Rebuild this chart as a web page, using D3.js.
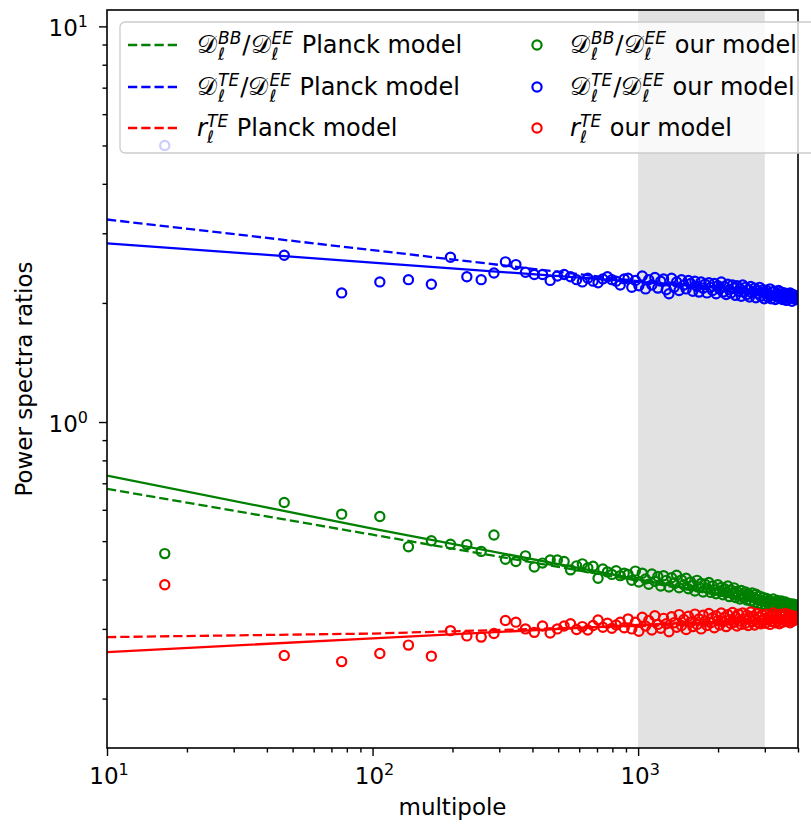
<!DOCTYPE html>
<html>
<head>
<meta charset="utf-8">
<script src="https://cdn.jsdelivr.net/npm/d3@7"></script>
<style>
  body { margin: 0; background: #fff; }
  text { font-family: "DejaVu Sans", sans-serif; }
</style>
</head>
<body>
<script>
// multipole bin centres (bins of width 30)
const ells = d3.range(16.5, 4000, 30);

// measured ratios, one value per bin
const teRatio = [
  5.0, 2.64, 2.12, 2.26, 2.29, 2.23, 2.61, 2.33, 2.29, 2.38,
  2.54, 2.50, 2.39, 2.36, 2.36, 2.28, 2.34, 2.36, 2.33, 2.29,
  2.26, 2.31, 2.27, 2.25, 2.30, 2.33, 2.29, 2.27, 2.22, 2.30,
  2.31, 2.19, 2.28, 2.21, 2.34, 2.17, 2.29, 2.22, 2.32, 2.18,
  2.27, 2.30, 2.16, 2.11, 2.31, 2.19, 2.26, 2.15, 2.29, 2.22,
  2.17, 2.28, 2.24, 2.14, 2.27, 2.20, 2.13, 2.26, 2.18, 2.23,
  2.12, 2.25, 2.19, 2.15, 2.24, 2.11, 2.21, 2.17, 2.26, 2.13,
  2.20, 2.10, 2.23, 2.16, 2.12, 2.22, 2.18, 2.09, 2.21, 2.14,
  2.17, 2.08, 2.22, 2.13, 2.19, 2.10, 2.16, 2.07, 2.20, 2.12,
  2.14, 2.18, 2.06, 2.15, 2.11, 2.19, 2.08, 2.13, 2.16, 2.05,
  2.12, 2.15, 2.07, 2.10, 2.17, 2.05, 2.13, 2.09, 2.14, 2.04,
  2.11, 2.07, 2.15, 2.06, 2.10, 2.13, 2.04, 2.09, 2.12, 2.06,
  2.03, 2.11, 2.08, 2.05, 2.12, 2.07, 2.02, 2.10, 2.06, 2.09,
  2.04, 2.08, 2.05
];
const bbRatio = [
  0.465, 0.626, 0.585, 0.577, 0.484, 0.501, 0.491, 0.490, 0.471, 0.518,
  0.450, 0.444, 0.459, 0.430, 0.440, 0.448, 0.448, 0.444, 0.423, 0.433,
  0.438, 0.428, 0.432, 0.403, 0.425, 0.418, 0.412, 0.421, 0.409, 0.415,
  0.412, 0.398, 0.420, 0.394, 0.415, 0.401, 0.389, 0.413, 0.396, 0.407,
  0.385, 0.409, 0.398, 0.383, 0.404, 0.392, 0.410, 0.381, 0.399, 0.388,
  0.403, 0.379, 0.394, 0.386, 0.374, 0.398, 0.383, 0.391, 0.372, 0.389,
  0.380, 0.393, 0.371, 0.385, 0.377, 0.368, 0.388, 0.374, 0.382, 0.366,
  0.379, 0.371, 0.385, 0.362, 0.376, 0.368, 0.381, 0.360, 0.373, 0.365,
  0.357, 0.375, 0.366, 0.359, 0.372, 0.355, 0.368, 0.362, 0.353, 0.370,
  0.361, 0.350, 0.367, 0.356, 0.348, 0.363, 0.354, 0.346, 0.360, 0.352,
  0.345, 0.358, 0.349, 0.355, 0.343, 0.352, 0.347, 0.357, 0.342, 0.350,
  0.346, 0.354, 0.341, 0.349, 0.344, 0.353, 0.340, 0.347, 0.343, 0.351,
  0.339, 0.346, 0.342, 0.348, 0.338, 0.344, 0.341, 0.347, 0.337, 0.343,
  0.340, 0.345, 0.338
];
const rteRatio = [
  0.388, 0.257, 0.248, 0.260, 0.273, 0.256, 0.297, 0.288, 0.286, 0.292,
  0.315, 0.312, 0.300, 0.294, 0.305, 0.293, 0.300, 0.305, 0.309, 0.299,
  0.304, 0.298, 0.306, 0.316, 0.303, 0.310, 0.301, 0.307, 0.312, 0.302,
  0.318, 0.300, 0.312, 0.296, 0.321, 0.305, 0.315, 0.298, 0.324, 0.308,
  0.301, 0.319, 0.309, 0.295, 0.322, 0.311, 0.303, 0.326, 0.306, 0.317,
  0.299, 0.323, 0.312, 0.304, 0.327, 0.308, 0.318, 0.300, 0.325, 0.314,
  0.306, 0.328, 0.311, 0.320, 0.302, 0.324, 0.315, 0.307, 0.329, 0.313,
  0.321, 0.304, 0.326, 0.316, 0.309, 0.330, 0.312, 0.322, 0.305, 0.327,
  0.314, 0.308, 0.329, 0.318, 0.310, 0.325, 0.306, 0.320, 0.331, 0.313,
  0.323, 0.307, 0.317, 0.328, 0.311, 0.321, 0.309, 0.326, 0.315, 0.319,
  0.310, 0.327, 0.316, 0.322, 0.308, 0.324, 0.313, 0.329, 0.318, 0.311,
  0.325, 0.314, 0.320, 0.309, 0.327, 0.317, 0.312, 0.323, 0.315, 0.328,
  0.313, 0.321, 0.318, 0.326, 0.311, 0.319, 0.324, 0.314, 0.322, 0.316,
  0.320, 0.317, 0.323
];

// model curves (straight in log-log), sampled at these multipoles
const modelEll = [10, 100, 1000, 4000];
const bbPlanck = [0.678, 0.519, 0.397, 0.336];
const tePlanck = [3.25, 2.72, 2.27, 2.04];
const rtePlanck = [0.286, 0.292, 0.305, 0.313];
const bbFit = [0.732, 0.538, 0.400, 0.338];
const teFit = [2.83, 2.53, 2.26, 2.11];
const rteFit = [0.262, 0.284, 0.307, 0.318];

const xMajor = [10, 100, 1000];
const yMajor = [1, 10];
const xMinor = [20,30,40,50,60,70,80,90,200,300,400,500,600,700,800,900,2000,3000,4000];
const yMinor = [0.2,0.3,0.4,0.5,0.6,0.7,0.8,0.9,2,3,4,5,6,7,8,9];
const shadeRange = [1000, 3000];

const GREEN = '#008000', BLUE = '#0000ff', RED = '#ff0000';
const W = 811, H = 828;
const box = { left: 107, right: 798, top: 10, bottom: 748 };

const x = d3.scaleLog().domain([10, 4000]).range([box.left, box.right]);
const y = d3.scaleLog().domain([0.15, 11]).range([box.bottom, box.top]);

const svg = d3.select(document.body).append('svg')
  .attr('width', W).attr('height', H);

svg.append('defs').append('clipPath').attr('id', 'plot')
  .append('rect')
  .attr('x', box.left).attr('y', box.top)
  .attr('width', box.right - box.left).attr('height', box.bottom - box.top);

const plot = svg.append('g').attr('clip-path', 'url(#plot)');

// shaded multipole range
plot.append('rect')
  .attr('x', x(shadeRange[0])).attr('width', x(shadeRange[1]) - x(shadeRange[0]))
  .attr('y', box.top).attr('height', box.bottom - box.top)
  .attr('fill', '#e2e2e2');

const line = d3.line().x(d => x(d[0])).y(d => y(d[1]));
const curves = [
  { v: bbFit, c: GREEN, dash: null },
  { v: bbPlanck, c: GREEN, dash: '9.25,4' },
  { v: teFit, c: BLUE, dash: null },
  { v: tePlanck, c: BLUE, dash: '9.25,4' },
  { v: rteFit, c: RED, dash: null },
  { v: rtePlanck, c: RED, dash: '9.25,4' }
];
plot.selectAll('.model').data(curves).enter().append('path')
  .classed('model', true)
  .attr('d', d => line(modelEll.map((e, i) => [e, d.v[i]])))
  .attr('fill', 'none')
  .attr('stroke', d => d.c)
  .attr('stroke-width', 2.3)
  .attr('stroke-dasharray', d => d.dash);

const series = [
  { v: bbRatio, c: GREEN },
  { v: teRatio, c: BLUE },
  { v: rteRatio, c: RED }
];
series.forEach(s => {
  plot.append('g').selectAll('circle')
    .data(ells.map((e, i) => [e, s.v[i]]))
    .enter().append('circle')
    .attr('cx', d => x(d[0]))
    .attr('cy', d => y(d[1]))
    .attr('r', 4.6)
    .attr('fill', 'none')
    .attr('stroke', s.c)
    .attr('stroke-width', 2.2);
});

// axes: ticks from d3 axes, labels drawn by hand for superscripts
function ticks(axis, size, vals) {
  return axis.tickValues(vals).tickSize(size).tickFormat('');
}
const axisStyle = g => {
  g.select('.domain').remove();
  g.selectAll('line').attr('stroke', '#000').attr('stroke-width', 1.4);
};
svg.append('g').attr('transform', `translate(0,${box.bottom})`)
  .call(ticks(d3.axisBottom(x), 4.5, xMinor)).call(axisStyle);
svg.append('g').attr('transform', `translate(0,${box.bottom})`)
  .call(ticks(d3.axisBottom(x), 8, xMajor)).call(axisStyle);
svg.append('g').attr('transform', `translate(${box.left},0)`)
  .call(ticks(d3.axisLeft(y), 4.5, yMinor)).call(axisStyle);
svg.append('g').attr('transform', `translate(${box.left},0)`)
  .call(ticks(d3.axisLeft(y), 8, yMajor)).call(axisStyle);

function powerLabel(sel) {
  sel.append('tspan').text('10');
  sel.append('tspan').attr('dy', -9).attr('font-size', 16).text(d => Math.round(Math.log10(d)));
}
svg.selectAll('.xlab').data(xMajor).enter().append('text')
  .attr('x', d => x(d) + 2).attr('y', 784)
  .attr('text-anchor', 'middle').attr('font-size', 23)
  .call(powerLabel);
svg.selectAll('.ylab').data(yMajor).enter().append('text')
  .attr('x', 88).attr('y', d => y(d) + 10)
  .attr('text-anchor', 'end').attr('font-size', 23)
  .call(powerLabel);

// frame
svg.append('rect')
  .attr('x', box.left).attr('y', box.top)
  .attr('width', box.right - box.left).attr('height', box.bottom - box.top)
  .attr('fill', 'none').attr('stroke', '#000').attr('stroke-width', 1.6);

svg.append('text')
  .attr('x', (box.left + box.right) / 2).attr('y', 815)
  .attr('text-anchor', 'middle').attr('font-size', 23)
  .text('multipole');
svg.append('text')
  .attr('transform', `translate(32,${(box.top + box.bottom) / 2}) rotate(-90)`)
  .attr('text-anchor', 'middle').attr('font-size', 23)
  .text('Power spectra ratios');

// legend
const legend = svg.append('g');
legend.append('rect')
  .attr('x', 120).attr('y', 22).attr('width', 740).attr('height', 131)
  .attr('rx', 5)
  .attr('fill', '#fff').attr('fill-opacity', 0.8)
  .attr('stroke', '#cccccc').attr('stroke-width', 1.3);

const D = { t: '\u{1D49F}', cal: true };
const BB = [D, { sup: 'BB', sub: 'ℓ' }, { t: '/' }, D, { sup: 'EE', sub: 'ℓ' }];
const TE = [D, { sup: 'TE', sub: 'ℓ' }, { t: '/' }, D, { sup: 'EE', sub: 'ℓ' }];
const RTE = [{ t: 'r', it: true }, { sup: 'TE', sub: 'ℓ' }];

const legendRows = [
  { parts: BB, c: GREEN }, { parts: TE, c: BLUE }, { parts: RTE, c: RED }
];
const rowY = [45, 87, 128];

// width of a string at a given size/style, measured off-screen
const probe = svg.append('text').attr('x', -999).attr('y', -999);
function measure(txt, size, italic) {
  probe.attr('font-size', size).attr('font-style', italic ? 'italic' : null).text(txt);
  return probe.node().getComputedTextLength();
}

// one text element per label; sub/superscripts stacked via dx/dy
function mathText(g, x0, yb, parts, tail) {
  const t = g.append('text').attr('x', x0).attr('y', yb);
  let base = 0, gap = 0;
  const span = (txt, dy, size, italic) => {
    t.append('tspan').attr('dx', gap || null).attr('dy', dy || null)
      .attr('font-size', size).attr('font-style', italic ? 'italic' : null)
      .text(txt);
    gap = 0;
  };
  parts.forEach(p => {
    if (p.t) {
      span(p.t, -base, 24.5, p.it);
      base = 0;
      gap = p.cal ? 1 : 0;
    } else {
      const w1 = measure(p.sup, 17, true), w2 = measure(p.sub, 17, true);
      span(p.sup, -9.5 - base, 17, true);
      gap = -w1;
      span(p.sub, 16, 17, true);
      base = 6.5;
      gap = Math.max(w1, w2) - w2 + 1;
    }
  });
  span('\u00a0' + tail, -base, 24, false);
}

legendRows.forEach((r, i) => {
  legend.append('line')
    .attr('x1', 128).attr('x2', 177).attr('y1', rowY[i]).attr('y2', rowY[i])
    .attr('stroke', r.c).attr('stroke-width', 2.3).attr('stroke-dasharray', '9.25,4');
  mathText(legend, 197, rowY[i] + 8, r.parts, 'Planck model');
  legend.append('circle')
    .attr('cx', 537).attr('cy', rowY[i]).attr('r', 4.6)
    .attr('fill', 'none').attr('stroke', r.c).attr('stroke-width', 2.2);
  mathText(legend, 570, rowY[i] + 8, r.parts, 'our model');
});
probe.remove();
</script>
</body>
</html>
